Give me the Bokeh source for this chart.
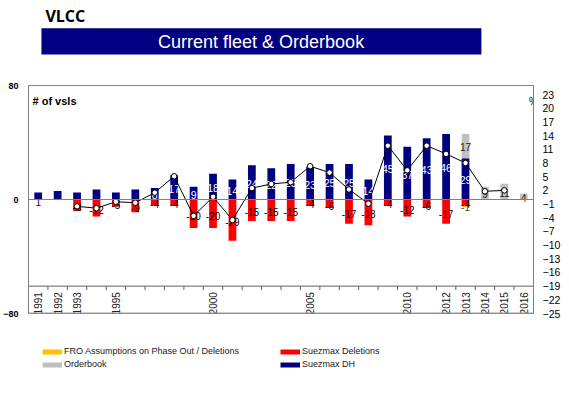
from math import pi
from bokeh.plotting import figure
from bokeh.models import (Range1d, LinearAxis, FixedTicker, Span, Label, Legend,
                          LegendItem, ColumnDataSource)
from bokeh.layouts import column
from bokeh.core.properties import value
from bokeh.embed import file_html
from bokeh.resources import INLINE

# ---------------- data ----------------
years = list(range(1991, 2017))
suezmax_dh = [5, 6, 5, 7, 5, 7, 8, 17, 9, 18, 14, 24, 22, 25, 23, 25, 25, 14,
              45, 37, 43, 46, 29, 0, 0, 0]
orderbook = [0] * 22 + [17, 9, 11, 4]
deletions = [0, 0, -8, -12, -5, -9, -4, -4, -20, -20, -29, -15, -15, -15, -4, -6,
             -17, -18, -4, -12, -6, -17, -4, 0, 0, 0]
fro_phase_out = [0] * 22 + [-1, 0, 0, 0]
deletion_label_text = ["1", "", "-8", "-12", "-5", "-9", "-4", "-4", "-20", "-20", "-29",
                       "-15", "-15", "-15", "-4", "-6", "-17", "-18", "-4", "-12", "-6",
                       "-17", "-4", "", "", ""]
growth_years = list(range(1993, 2016))
growth_pct = [-1.5, -1.9, -0.5, -0.7, 1.5, 5.1, -3.6, 0.6, -4.5, 2.5, 3.4, 3.8, 7.3,
              5.9, 2.2, -0.9, 11.8, 6.4, 11.8, 10.0, 8.0, 1.8, 2.0]
dh_label_years = list(range(1997, 2014))
x_tick_labels = ["1991", "1992", "1993", "1995", "2000", "2005", "2010", "2012",
                 "2013", "2014", "2015", "2016"]
left_ticks = [-80, 0, 80]
right_ticks = [-25, -22, -19, -16, -13, -10, -7, -4, -1, 2, 5, 8, 11, 14, 17, 20, 23]
category_axis_at_pct = -19

NAVY = "#000080"
RED = "#FF0000"
GREY = "#C0C0C0"
ORANGE = "#FFC000"
AXIS = "#808080"
FONT = value("Liberation Sans")

W = 565
FL, FR = 26, 533   # frame left / right (frames are aligned in the column)

# ---------------- header ----------------
hdr = figure(width=W, height=68, x_range=Range1d(FL, FR), y_range=Range1d(0, 68),
             output_backend="svg", toolbar_location=None, min_border=0,
             min_border_left=FL, min_border_right=W - FR,
             x_axis_location=None, y_axis_location=None, outline_line_color=None)
hdr.grid.visible = False
hdr.quad(left=[39], right=[480.7], bottom=[14], top=[40.3], fill_color=NAVY, line_color=None)
hdr.text(x=[43], y=[53], text=["VLCC"], text_font=value("Open Sans"), text_font_style="bold",
         text_font_size="16px", text_color="black", text_align="left", text_baseline="middle")
hdr.text(x=[259.5], y=[27], text=["Current fleet & Orderbook"], text_font=FONT,
         text_font_size="18px", text_color="white", text_align="center", text_baseline="middle")

# ---------------- main chart ----------------
p = figure(width=W, height=255, x_range=Range1d(1990.5, 2016.5), y_range=Range1d(-80, 80),
           output_backend="svg", toolbar_location=None, x_axis_location=None,
           min_border_left=FL, min_border_right=W - FR, min_border_top=17, min_border_bottom=10,
           outline_line_color=AXIS)
p.grid.visible = False
p.extra_y_ranges = {"pct": Range1d(-25, 25)}

ly = p.left[0]
ly.ticker = FixedTicker(ticks=left_ticks)
ly.major_tick_out = 0
ly.major_tick_in = 0
ly.minor_tick_out = 0
ly.minor_tick_in = 0
ly.major_label_standoff = 10
ly.axis_line_color = AXIS
ly.major_label_text_font = "Liberation Sans"
ly.major_label_text_font_style = "bold"
ly.major_label_text_font_size = "9px"
ly.major_label_text_color = "black"

ry = LinearAxis(y_range_name="pct", ticker=FixedTicker(ticks=right_ticks),
                major_tick_out=0, major_tick_in=0, minor_tick_out=0, minor_tick_in=0,
                major_label_standoff=9, axis_line_color=AXIS,
                major_label_text_font="Liberation Sans", major_label_text_font_size="10.5px",
                major_label_text_color="black")
p.add_layout(ry, "right")

ob_top = [d + o for d, o in zip(suezmax_dh, orderbook)]
fro_bottom = [d + f for d, f in zip(deletions, fro_phase_out)]
src = ColumnDataSource(dict(year=years, dh=suezmax_dh, ob_top=ob_top, dele=deletions,
                            fro_bottom=fro_bottom))
BW = 0.4
p.vbar(x="year", bottom=0, top="dh", width=BW, source=src, fill_color=NAVY, line_color=None)
p.vbar(x="year", bottom="dh", top="ob_top", width=BW, source=src, fill_color=GREY, line_color=None)
p.vbar(x="year", bottom="dele", top=0, width=BW, source=src, fill_color=RED, line_color=None)
p.vbar(x="year", bottom="fro_bottom", top="dele", width=BW, source=src, fill_color=ORANGE,
       line_color=None)

p.add_layout(Span(location=0, dimension="width", line_color=AXIS, line_width=1))
p.add_layout(Span(location=-80, dimension="width", line_color="#a0a0a0", line_width=2))

# category axis drawn at -19 on the % axis
x0, x1 = years[0] - 0.5, years[-1] + 0.5
px_per_pct = 228 / 50.0
tick_len = 4 / px_per_pct
p.segment(x0=[x0], x1=[x1], y0=[category_axis_at_pct], y1=[category_axis_at_pct],
          y_range_name="pct", line_color="#606060", line_width=1)
bounds = [y + 0.5 for y in years[:-1]]
p.segment(x0=bounds, x1=bounds, y0=[category_axis_at_pct] * len(bounds),
          y1=[category_axis_at_pct - tick_len] * len(bounds), y_range_name="pct",
          line_color="#606060", line_width=1)
p.text(x=[int(t) for t in x_tick_labels], y=[category_axis_at_pct] * len(x_tick_labels),
       text=x_tick_labels, y_range_name="pct", angle=pi / 2, text_align="right",
       text_baseline="middle", y_offset=6, text_font=FONT, text_font_size="10px",
       text_color="#202020")

# data labels
dh_lab = [(y, d) for y, d in zip(years, suezmax_dh) if y in dh_label_years]
p.text(x=[y for y, _ in dh_lab], y=[d / 2 for _, d in dh_lab], text=[str(d) for _, d in dh_lab],
       text_align="center", text_baseline="middle", y_offset=1.5, text_font=FONT,
       text_font_size="10.5px", text_color="white")
del_lab = [(y, d, t) for y, d, t in zip(years, deletions, deletion_label_text) if t]
p.text(x=[y for y, _, _ in del_lab], y=[d / 2 for _, d, _ in del_lab],
       text=[t for _, _, t in del_lab], text_align="center", text_baseline="middle",
       y_offset=2, text_font=FONT, text_font_size="10px", text_color="black")
ob_lab = [(y, d, o) for y, d, o in zip(years, suezmax_dh, orderbook) if o]
p.text(x=[y for y, _, _ in ob_lab], y=[d + o / 2 for _, d, o in ob_lab],
       text=[str(o) for _, _, o in ob_lab], text_align="center", text_baseline="middle",
       y_offset=1, text_font=FONT, text_font_size="10px", text_color="#202020")
fro_lab = [(y, d, f) for y, d, f in zip(years, deletions, fro_phase_out) if f]
p.text(x=[y for y, _, _ in fro_lab], y=[d + f / 2 for _, d, f in fro_lab],
       text=[str(f) for _, _, f in fro_lab], text_align="center", text_baseline="middle",
       y_offset=1, text_font=FONT, text_font_size="10px", text_color="#5a4800")

# growth line
p.line(growth_years, growth_pct, y_range_name="pct", line_color="black", line_width=1)
p.scatter(growth_years, growth_pct, y_range_name="pct", size=5.5, fill_color="white",
          line_color="black", line_width=1)

p.add_layout(Label(x=x0, y=69, x_offset=4, text="# of vsls", text_baseline="middle",
                   text_font="Liberation Sans", text_font_style="bold",
                   text_font_size="11px", text_color="black"))
p.add_layout(Label(x=x1, y=21.6, y_range_name="pct", text="%", text_align="center",
                   text_baseline="middle", text_font="Liberation Sans",
                   text_font_size="10px", text_color="black"))

# ---------------- legend strip ----------------
lg = figure(width=W, height=50, x_range=Range1d(0, 1), y_range=Range1d(0, 1),
            output_backend="svg", toolbar_location=None, min_border=0,
            min_border_left=FL, min_border_right=W - FR,
            x_axis_location=None, y_axis_location=None, outline_line_color=None)
lg.grid.visible = False
off = dict(x=[5, 6], y=[5, 6])
r_fro = lg.line(line_color=ORANGE, line_width=5, **off)
r_ob = lg.line(line_color=GREY, line_width=5, **off)
r_del = lg.line(line_color=RED, line_width=5, **off)
r_dh = lg.line(line_color=NAVY, line_width=5, **off)


def make_legend(items, loc):
    return Legend(items=items, location=loc, orientation="vertical", glyph_width=20,
                  glyph_height=9, label_height=9, label_standoff=2, spacing=3, padding=0,
                  margin=0, border_line_alpha=0, background_fill_alpha=0,
                  label_text_font="Liberation Sans", label_text_font_size="9px",
                  label_text_color="#202020")


lg.add_layout(make_legend([LegendItem(label="FRO Assumptions on Phase Out / Deletions", renderers=[r_fro]),
                           LegendItem(label="Orderbook", renderers=[r_ob])], (40 - FL, 4)))
lg.add_layout(make_legend([LegendItem(label="Suezmax Deletions", renderers=[r_del]),
                           LegendItem(label="Suezmax DH", renderers=[r_dh])], (278 - FL, 4)))

layout = column(hdr, p, lg)
open("out.html", "w").write(file_html(layout, INLINE))
